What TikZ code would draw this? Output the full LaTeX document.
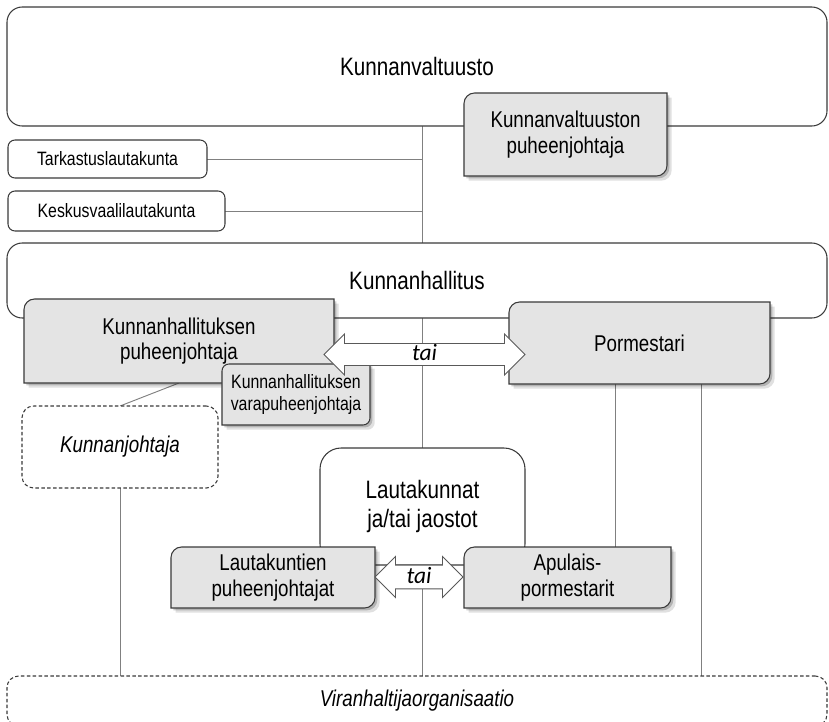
\documentclass[tikz,border=0pt]{standalone}
\usepackage{fontspec}
\setmainfont{Liberation Sans}[FakeStretch=0.82]
\newfontfamily\taifont{Carlito}
\usepackage{tikz}
\usetikzlibrary{shapes.arrows,shadows}

\definecolor{laatikkoharmaa}{HTML}{E4E4E4}
\definecolor{reuna}{HTML}{3A3A3A}
\definecolor{viiva}{HTML}{808080}

\pgfdeclarelayer{viivat}
\pgfsetlayers{viivat,main}

% laatikko: vasen ylakulma ja oikea alakulma pyoristetty
\makeatletter
\tikzset{kulmasade/.store in=\kulmasade, kulmasade=9pt}
\pgfdeclareshape{kulmalaatikko}{%
  \inheritsavedanchors[from=rectangle]%
  \inheritanchorborder[from=rectangle]%
  \inheritanchor[from=rectangle]{center}%
  \inheritanchor[from=rectangle]{north}%
  \inheritanchor[from=rectangle]{south}%
  \inheritanchor[from=rectangle]{east}%
  \inheritanchor[from=rectangle]{west}%
  \inheritanchor[from=rectangle]{north west}%
  \inheritanchor[from=rectangle]{north east}%
  \inheritanchor[from=rectangle]{south west}%
  \inheritanchor[from=rectangle]{south east}%
  \backgroundpath{%
    \southwest \edef\kl@xa{\the\pgf@x}\edef\kl@ya{\the\pgf@y}%
    \northeast \edef\kl@xb{\the\pgf@x}\edef\kl@yb{\the\pgf@y}%
    \pgfmathsetlengthmacro\kl@r{\kulmasade}%
    \pgfpathmoveto{\pgfqpoint{\kl@xa}{\kl@ya}}%
    \pgfpathlineto{\pgfpoint{\kl@xa}{\kl@yb-\kl@r}}%
    \pgfpatharc{180}{90}{\kl@r}%
    \pgfpathlineto{\pgfqpoint{\kl@xb}{\kl@yb}}%
    \pgfpathlineto{\pgfpoint{\kl@xb}{\kl@ya+\kl@r}}%
    \pgfpatharc{0}{-90}{\kl@r}%
    \pgfpathclose
  }%
}
\makeatother

\begin{document}
\begin{tikzpicture}[x=0.03cm, y=-0.03cm,
    iso/.style={font=\fontsize{21.5}{25}\selectfont},
    perus/.style={font=\fontsize{19.5}{21.5}\selectfont},
    pieni/.style={font=\fontsize{16.5}{19}\selectfont},
    valkoinen/.style={draw=reuna, fill=white, line width=0.9pt, rounded corners=#1, align=center, inner sep=0pt, outer sep=0pt},
    valkoinen/.default=6pt,
    harmaa/.style={shape=kulmalaatikko, draw=reuna, fill=laatikkoharmaa, line width=0.9pt, align=center, inner sep=0pt, outer sep=0pt, perus,
      drop shadow={shadow xshift=4pt, shadow yshift=-4pt, fill=black, opacity=0.12},
      drop shadow={shadow xshift=2pt, shadow yshift=-2pt, fill=black, opacity=0.2}},
    katko/.style={valkoinen=10pt, dash pattern=on 3pt off 2pt, font=\fontsize{19.5}{21.5}\selectfont\itshape},
    tai/.style={double arrow, draw=black!65, fill=white, line width=0.8pt, font=\taifont\itshape\fontsize{20}{20}\selectfont, text height=12pt, text depth=1pt, inner ysep=2.5pt, inner xsep=0pt},
    yhteys/.style={draw=viiva, line width=0.8pt}
  ]
    \useasboundingbox (0,0) rectangle (829,722);

    % valtuusto ja sen alaiset
    \node[valkoinen=13pt, iso, minimum width=24.6cm, minimum height=3.57cm] (valt) at (417,66.5) {Kunnanvaltuusto};
    \node[harmaa, minimum width=6.09cm, minimum height=2.49cm] (valtpj) at (565.5,134.5) {Kunnanvaltuuston\\puheenjohtaja};
    \node[valkoinen, pieni, minimum width=5.97cm, minimum height=1.14cm] (tark) at (107.5,159) {Tarkastuslautakunta};
    \node[valkoinen, pieni, minimum width=6.51cm, minimum height=1.2cm] (kvl) at (116.5,211) {Keskusvaalilautakunta};

    % hallitus
    \node[valkoinen=13pt, iso, minimum width=24.6cm, minimum height=2.25cm] (hall) at (417,280.5) {Kunnanhallitus};
    \node[harmaa, minimum width=9.3cm, minimum height=2.52cm] (hallpj) at (179,341) {Kunnanhallituksen\\puheenjohtaja};
    \node[harmaa, kulmasade=6pt, pieni, minimum width=4.44cm, minimum height=1.83cm] (varapj) at (296,394.5) {Kunnanhallituksen\\varapuheenjohtaja};
    \node[harmaa, minimum width=7.83cm, minimum height=2.46cm] (porm) at (639.5,343) {Pormestari};
    \node[katko, minimum width=5.88cm, minimum height=2.46cm] (kjoht) at (120,447) {Kunnanjohtaja};

    % lautakunnat
    \node[valkoinen=18pt, iso, minimum width=6.15cm, minimum height=3.51cm] (ltk) at (422.5,506.5) {Lautakunnat\\ja/tai jaostot};
    \node[harmaa, minimum width=6.12cm, minimum height=1.83cm] (ltkpj) at (273,577.5) {Lautakuntien\\puheenjohtajat};
    \node[harmaa, minimum width=6.21cm, minimum height=1.83cm] (apul) at (567.5,577.5) {Apulais-\\pormestarit};

    \node[katko, minimum width=24.6cm, minimum height=1.5cm] (viran) at (417,701) {Viranhaltijaorganisaatio};

    % tai-nuolet
    \node[tai, minimum height=6.03cm, double arrow head extend=8.1pt] (tai1) at (424.5,354.5) {tai};
    \node[tai, minimum height=2.64cm, double arrow head extend=7.3pt, inner ysep=3.3pt] (tai2) at (419,577) {tai};

    % yhteysviivat taustalle
    \begin{pgfonlayer}{viivat}
      \draw[yhteys] (valt.south -| ltk.north) -- (hall.north -| ltk.north);
      \draw[yhteys] (tark.east) -- (tark.east -| ltk.north);
      \draw[yhteys] (kvl.east) -- (kvl.east -| ltk.north);
      \draw[yhteys] (hall.south -| ltk.north) -- (viran.north -| ltk.north);
      \draw[yhteys] (hallpj.south) -- (kjoht.north);
      \draw[yhteys] (kjoht.south) -- (viran.north -| kjoht.south);
      \draw[yhteys] ([xshift=-0.735cm]porm.south) -- ([xshift=-0.735cm]porm.south |- apul.north);
      \draw[yhteys] ([xshift=1.845cm]porm.south) -- ([xshift=1.845cm]porm.south |- viran.north);
    \end{pgfonlayer}
\end{tikzpicture}
\end{document}
